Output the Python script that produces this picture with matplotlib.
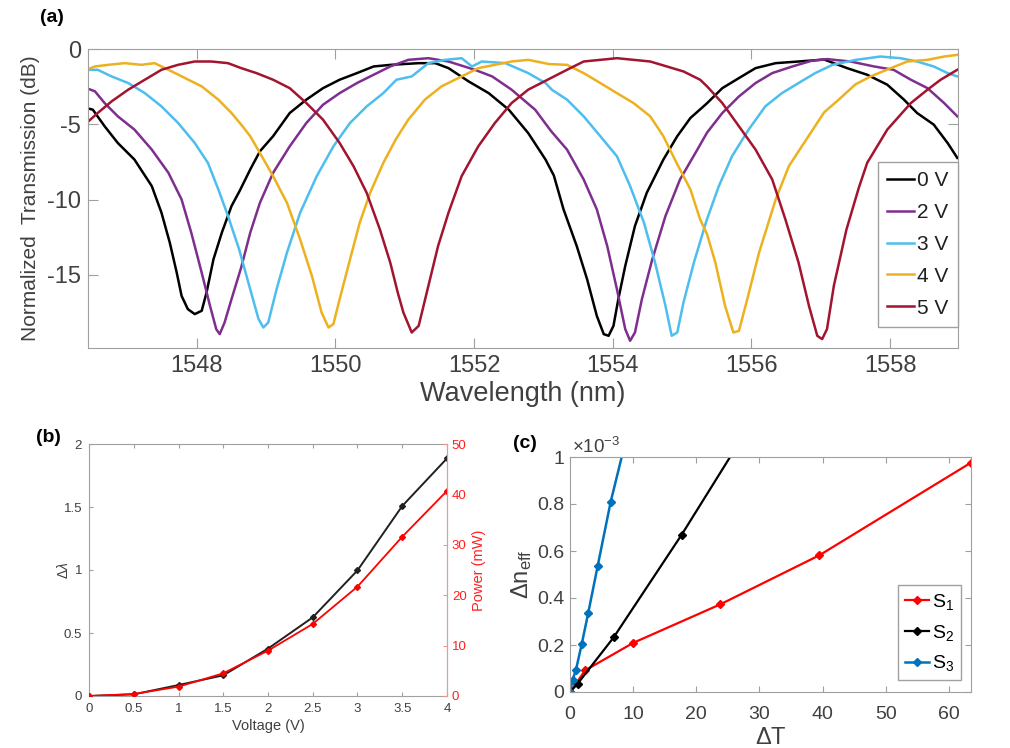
import matplotlib
matplotlib.use("Agg")
import matplotlib.pyplot as plt
from matplotlib.ticker import FuncFormatter

plt.rcParams['font.family'] = ['Liberation Sans', 'DejaVu Sans']
plt.rcParams['mathtext.fontset'] = 'custom'
plt.rcParams['mathtext.rm'] = 'Liberation Sans'
plt.rcParams['mathtext.it'] = 'Liberation Sans:italic'

# ---- (a) transmission spectra for each bias voltage ----
wl_0v = [1546.41, 1546.50, 1546.67, 1546.86, 1547.10, 1547.35, 1547.49, 1547.61, 1547.71, 1547.78,
         1547.87, 1547.97, 1548.07, 1548.14, 1548.24, 1548.36, 1548.50, 1548.62, 1548.77, 1548.91,
         1549.10, 1549.34, 1549.58, 1549.82, 1550.06, 1550.31, 1550.55, 1550.80, 1551.20, 1551.44,
         1551.63, 1551.92, 1552.21, 1552.50, 1552.78, 1553.03, 1553.15, 1553.29, 1553.48, 1553.63,
         1553.77, 1553.87, 1553.94, 1554.01, 1554.08, 1554.18, 1554.32, 1554.49, 1554.73, 1554.93,
         1555.12, 1555.36, 1555.58, 1555.82, 1556.06, 1556.35, 1556.68, 1557.05, 1557.38, 1557.67,
         1557.96, 1558.20, 1558.39, 1558.63, 1558.83, 1558.97]
tr_0v = [-3.92, -4.03, -5.13, -6.24, -7.34, -9.10, -10.87, -12.86, -14.85, -16.39,
         -17.27, -17.60, -17.38, -16.17, -13.96, -12.20, -10.43, -9.40, -8.00, -6.79,
         -5.79, -4.25, -3.36, -2.60, -2.04, -1.60, -1.16, -1.05, -0.94, -0.94,
         -1.27, -2.15, -2.93, -4.03, -5.58, -7.34, -8.40, -10.65, -13.08, -15.29,
         -17.72, -18.93, -19.04, -18.38, -16.61, -14.40, -11.75, -9.55, -7.34, -5.79,
         -4.58, -3.60, -2.60, -1.93, -1.27, -0.94, -0.83, -0.70, -1.27, -1.71,
         -2.37, -3.36, -4.25, -5.02, -6.24, -7.23]

wl_2v = [1546.41, 1546.53, 1546.67, 1546.86, 1547.10, 1547.35, 1547.59, 1547.78, 1547.92, 1548.07,
         1548.19, 1548.28, 1548.33, 1548.40, 1548.50, 1548.64, 1548.77, 1548.91, 1549.10, 1549.34,
         1549.58, 1549.82, 1550.06, 1550.31, 1550.55, 1550.79, 1551.05, 1551.34, 1551.63, 1552.01,
         1552.26, 1552.54, 1552.88, 1553.11, 1553.34, 1553.58, 1553.77, 1553.92, 1554.06, 1554.18,
         1554.25, 1554.32, 1554.42, 1554.57, 1554.76, 1554.97, 1555.22, 1555.36, 1555.58, 1555.82,
         1556.06, 1556.30, 1556.59, 1556.87, 1557.09, 1557.43, 1557.77, 1558.05, 1558.30, 1558.54,
         1558.78, 1558.97]
tr_2v = [-2.60, -2.81, -3.59, -4.47, -5.35, -6.68, -8.22, -9.99, -12.20, -14.85,
         -17.05, -18.60, -18.93, -18.16, -16.61, -14.50, -12.20, -10.21, -8.22, -6.46,
         -4.91, -3.70, -2.93, -2.26, -1.71, -1.16, -0.72, -0.61, -0.83, -1.38,
         -1.82, -2.70, -4.03, -5.45, -6.68, -8.66, -10.65, -13.08, -15.95, -18.60,
         -19.37, -18.82, -16.61, -13.96, -11.09, -8.66, -6.68, -5.55, -4.25, -3.15,
         -2.26, -1.60, -1.16, -0.78, -0.67, -0.83, -1.16, -1.38, -2.04, -2.60,
         -3.59, -4.47]

wl_3v = [1546.41, 1546.57, 1546.77, 1547.01, 1547.25, 1547.49, 1547.73, 1547.97, 1548.16, 1548.31,
         1548.45, 1548.61, 1548.77, 1548.89, 1548.96, 1549.03, 1549.15, 1549.30, 1549.49, 1549.73,
         1549.97, 1550.21, 1550.45, 1550.69, 1550.88, 1551.10, 1551.34, 1551.58, 1551.82, 1551.97,
         1552.11, 1552.45, 1552.78, 1553.03, 1553.12, 1553.34, 1553.58, 1553.82, 1554.06, 1554.25,
         1554.45, 1554.61, 1554.76, 1554.85, 1554.93, 1555.02, 1555.17, 1555.35, 1555.53, 1555.72,
         1555.96, 1556.20, 1556.44, 1556.68, 1556.92, 1557.17, 1557.51, 1557.86, 1558.15, 1558.39,
         1558.63, 1558.83, 1558.97]
tr_3v = [-1.38, -1.38, -1.82, -2.26, -2.93, -3.81, -4.91, -6.24, -7.56, -9.32,
         -11.09, -13.30, -15.95, -17.93, -18.49, -18.16, -15.95, -13.52, -10.87, -8.44,
         -6.46, -4.91, -3.81, -2.93, -2.04, -1.82, -0.94, -0.72, -0.61, -1.16,
         -0.83, -0.94, -1.60, -2.26, -2.70, -3.36, -4.47, -5.79, -7.12, -9.10,
         -11.53, -14.18, -17.05, -19.04, -18.82, -16.83, -14.18, -11.42, -9.10, -7.12,
         -5.35, -3.81, -2.93, -2.26, -1.60, -1.05, -0.72, -0.50, -0.61, -0.83,
         -1.16, -1.60, -1.82]

wl_4v = [1546.41, 1546.53, 1546.72, 1546.96, 1547.20, 1547.39, 1547.59, 1547.83, 1548.07, 1548.31,
         1548.50, 1548.64, 1548.77, 1548.91, 1549.10, 1549.30, 1549.49, 1549.66, 1549.80, 1549.90,
         1549.97, 1550.06, 1550.21, 1550.35, 1550.50, 1550.69, 1550.87, 1551.05, 1551.29, 1551.53,
         1551.82, 1552.06, 1552.30, 1552.54, 1552.78, 1553.08, 1553.34, 1553.58, 1553.82, 1554.06,
         1554.30, 1554.54, 1554.73, 1554.92, 1555.12, 1555.26, 1555.36, 1555.48, 1555.62, 1555.74,
         1555.82, 1555.94, 1556.11, 1556.35, 1556.54, 1556.75, 1557.05, 1557.26, 1557.50, 1557.72,
         1558.01, 1558.25, 1558.54, 1558.78, 1558.97]
tr_4v = [-1.38, -1.16, -1.05, -0.94, -1.05, -0.94, -1.38, -1.93, -2.48, -3.36,
         -4.25, -5.02, -5.79, -6.90, -8.44, -10.21, -12.64, -15.07, -17.50, -18.49,
         -18.26, -16.61, -13.96, -11.53, -9.55, -7.56, -6.00, -4.69, -3.36, -2.48,
         -1.82, -1.27, -1.05, -0.83, -0.72, -1.00, -1.05, -1.60, -2.26, -2.93,
         -3.59, -4.47, -5.79, -7.56, -9.32, -11.31, -12.30, -14.18, -17.05, -18.82,
         -18.71, -16.61, -13.52, -9.99, -7.78, -6.30, -4.20, -3.36, -2.35, -1.82,
         -1.27, -0.83, -0.72, -0.50, -0.39]

wl_5v = [1546.41, 1546.57, 1546.77, 1547.01, 1547.25, 1547.49, 1547.73, 1547.97, 1548.21, 1548.45,
         1548.64, 1548.86, 1549.10, 1549.34, 1549.58, 1549.82, 1550.06, 1550.26, 1550.45, 1550.64,
         1550.79, 1550.90, 1550.98, 1551.10, 1551.20, 1551.34, 1551.48, 1551.63, 1551.82, 1552.06,
         1552.30, 1552.54, 1552.78, 1553.06, 1553.34, 1553.58, 1553.82, 1554.06, 1554.30, 1554.54,
         1554.78, 1555.02, 1555.26, 1555.36, 1555.58, 1555.82, 1556.06, 1556.30, 1556.49, 1556.68,
         1556.83, 1556.95, 1557.02, 1557.09, 1557.19, 1557.37, 1557.55, 1557.67, 1557.96, 1558.30,
         1558.54, 1558.73, 1558.97]
tr_5v = [-4.91, -4.25, -3.48, -2.70, -2.04, -1.38, -1.05, -0.83, -0.83, -0.94,
         -1.27, -1.60, -2.04, -2.60, -3.59, -4.69, -6.24, -7.78, -9.55, -11.97,
         -14.18, -16.20, -17.50, -18.82, -18.38, -15.73, -13.08, -10.87, -8.44, -6.46,
         -4.91, -3.59, -2.70, -2.04, -1.38, -0.83, -0.72, -0.61, -0.72, -0.83,
         -1.16, -1.49, -2.04, -2.48, -3.59, -5.13, -6.68, -8.66, -11.31, -14.18,
         -17.05, -19.04, -19.26, -18.60, -15.70, -12.00, -9.20, -7.56, -5.35, -3.59,
         -2.70, -2.04, -1.38]

spectra_labels = ['0 V', '2 V', '3 V', '4 V', '5 V']
spectra_colors = ['#000000', '#7E2F8E', '#4DBEEE', '#EDB120', '#A2142F']

# ---- (b) resonance shift and heater power vs voltage ----
voltage = [0, 0.5, 1, 1.5, 2, 2.5, 3, 3.5, 4]
dlambda = [0, 0.013, 0.087, 0.164, 0.376, 0.624, 0.997, 1.508, 1.886]
power_mw = [0, 0.4, 1.85, 4.5, 9.0, 14.3, 21.7, 31.6, 40.7]

# ---- (c) effective index change vs temperature change (units of 1e-3) ----
dT_s1 = [0, 2.4, 10.0, 23.8, 39.5, 63.5]
dn_s1 = [0, 0.092, 0.209, 0.373, 0.582, 0.976]
dT_s2 = [0, 1.2, 6.9, 17.7, 28.6]
dn_s2 = [0, 0.035, 0.232, 0.670, 1.140]
dT_s3 = [0, 0.42, 0.95, 1.85, 2.9, 4.38, 6.44, 9.1]
dn_s3 = [0, 0.052, 0.095, 0.203, 0.338, 0.536, 0.809, 1.10]

W, H = 1010, 748
fig = plt.figure(figsize=(W / 100, H / 100), dpi=100)

def box(l, t, r, b):
    return [l / W, 1 - b / H, (r - l) / W, (b - t) / H]

spine_c = '#a0a0a0'
text_c = '#404040'
fmt_g = FuncFormatter(lambda v, p: f'{v:g}')

def style(ax, size, ticklen, pad=3.5):
    for s in ax.spines.values():
        s.set_color(spine_c)
        s.set_linewidth(0.8)
    ax.tick_params(direction='in', top=True, right=True, length=ticklen, pad=pad,
                   width=0.8, color=spine_c, labelcolor=text_c, labelsize=size)

# (a)
ax1 = fig.add_axes(box(88, 49, 958, 348))
spectra = [(wl_0v, tr_0v), (wl_2v, tr_2v), (wl_3v, tr_3v), (wl_4v, tr_4v), (wl_5v, tr_5v)]
for (x, y), lab, c in zip(spectra, spectra_labels, spectra_colors):
    ax1.plot(x, y, color=c, lw=1.8, label=lab)
ax1.set_xlim(1546.43, 1558.98)
ax1.set_ylim(-19.85, 0)
ax1.set_xticks([1548, 1550, 1552, 1554, 1556, 1558])
ax1.set_yticks([-15, -10, -5, 0])
ax1.yaxis.set_major_formatter(fmt_g)
style(ax1, 17, 7, pad=5)
ax1.set_xlabel('Wavelength (nm)', fontsize=19.5, color=text_c, labelpad=3)
ax1.set_ylabel('Normalized  Transmission (dB)', fontsize=15, color=text_c, labelpad=5)
leg = ax1.legend(loc='lower right', bbox_to_anchor=(1.0, 0.07), borderaxespad=0,
                 fontsize=15, handlelength=1.3, handletextpad=0.15, labelspacing=0.62,
                 fancybox=False, framealpha=1, borderpad=0.45)
leg.get_frame().set_edgecolor(spine_c)
for t in leg.get_texts():
    t.set_color('#202020')

# (b)
ax2 = fig.add_axes(box(89, 444, 447, 696))
ax2.plot(voltage, dlambda, color='#202020', lw=1.4, marker='D', ms=3)
ax2.set_xlim(0, 4)
ax2.set_ylim(0, 2)
ax2.set_xticks([0, 0.5, 1, 1.5, 2, 2.5, 3, 3.5, 4])
ax2.set_yticks([0, 0.5, 1, 1.5, 2])
ax2.xaxis.set_major_formatter(fmt_g)
ax2.yaxis.set_major_formatter(fmt_g)
style(ax2, 9.5, 3, pad=5)
ax2.tick_params(right=False)
ax2.set_xlabel('Voltage (V)', fontsize=10.5, color=text_c, labelpad=3)
ax2.set_ylabel(r'$\Delta\lambda$', fontsize=10, color=text_c, labelpad=-5)
ax2b = ax2.twinx()
ax2b.plot(voltage, power_mw, color='#ff0000', lw=1.3, marker='D', ms=3)
ax2b.set_ylim(0, 50)
ax2b.set_yticks([0, 10, 20, 30, 40, 50])
for s in ax2b.spines.values():
    s.set_visible(False)
ax2b.spines['right'].set_visible(True)
ax2b.spines['right'].set_color('#ff9090')
ax2b.tick_params(direction='in', length=3, color='#ff9090', labelcolor='#ff2020', labelsize=9.5)
ax2b.set_ylabel('Power (mW)', fontsize=10.5, color='#ff2020', labelpad=4)

# (c)
ax3 = fig.add_axes(box(570, 457, 971, 692))
ax3.plot(dT_s1, dn_s1, color='#ff0000', lw=1.6, marker='D', ms=4.5, label=r'S$_1$')
ax3.plot(dT_s2, dn_s2, color='#000000', lw=1.6, marker='D', ms=4.5, label=r'S$_2$')
ax3.plot(dT_s3, dn_s3, color='#0072BD', lw=1.8, marker='D', ms=4.5, label=r'S$_3$')
ax3.set_xlim(0, 63.5)
ax3.set_ylim(0, 1)
ax3.set_xticks([0, 10, 20, 30, 40, 50, 60])
ax3.set_yticks([0, 0.2, 0.4, 0.6, 0.8, 1])
ax3.yaxis.set_major_formatter(fmt_g)
style(ax3, 14, 4, pad=4)
ax3.tick_params(axis='x', pad=10)
ax3.set_xlabel(r'$\Delta$T', fontsize=17, color=text_c, labelpad=3)
ax3.set_ylabel(r'$\Delta$n$_{\rm eff}$', fontsize=17, color=text_c, labelpad=2)
ax3.text(0.005, 1.0, r'$\times$10$^{-3}$', transform=ax3.transAxes, fontsize=13.5,
         color=text_c, ha='left', va='bottom')
leg3 = ax3.legend(loc='lower right', bbox_to_anchor=(0.975, 0.05), borderaxespad=0,
                  fontsize=14, handlelength=1.25, handletextpad=0.15, labelspacing=0.55,
                  fancybox=False, framealpha=1, borderpad=0.35, markerscale=0.9)
leg3.get_frame().set_edgecolor(spine_c)

# panel tags
fig.text(52 / W, 1 - 18 / H, '(a)', fontsize=14, fontweight='bold', ha='center', va='center')
fig.text(48 / W, 1 - 438 / H, '(b)', fontsize=14, fontweight='bold', ha='center', va='center')
fig.text(525 / W, 1 - 443 / H, '(c)', fontsize=14, fontweight='bold', ha='center', va='center')

fig.savefig('out.png', dpi=100)
